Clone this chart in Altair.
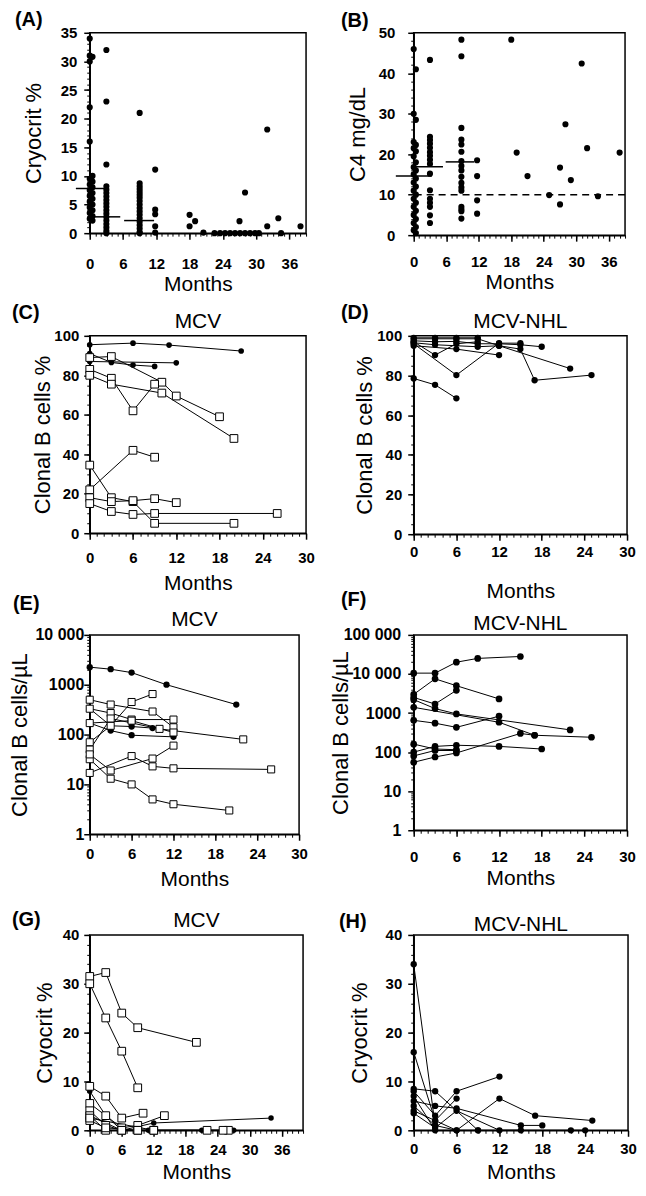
import altair as alt
import pandas as pd

FONT = "Liberation Sans"

# ---------------- (A) Cryocrit % , all patients ----------------
A_months = [
    0, 0, 0.5, 0, 0, 0, 0.5, 0, 0.5, 0, 0.5, 0, 0.5, 0, 0.5, 0, 0.5, 0, 0.5, 0, 0.5, 0, 0.5,
    3, 3, 3, 3, 3, 3, 3, 3, 3, 3, 3, 3, 3, 3, 3, 3, 3, 3,
    9, 9, 9, 9, 9, 9, 9, 9, 9, 9, 9, 9, 9, 9, 9, 9, 9, 9,
    11.8, 11.8, 11.8, 11.8, 11.8,
    18, 18, 19, 20.5, 22.5, 23.5, 24.4, 25.3, 26.2, 27.1, 28, 28.9, 29.8, 30.5,
    27, 28, 32, 32, 34, 34.5, 38,
]
A_cryocrit = [
    34, 31, 30.8, 30, 22, 16, 10, 9.5, 9, 8.5, 8, 7.5, 7, 6.5, 6, 5.5, 5, 4.5, 4, 3.5, 3, 2.5, 2.2,
    32, 23, 12, 8.2, 7.6, 7, 6.4, 5.8, 5.2, 4.6, 4, 3.4, 2.8, 2.2, 1.6, 1, 0.4, 0,
    21, 8.7, 8.2, 7.7, 7.2, 6.7, 6.2, 5.6, 5, 4.4, 3.8, 3.2, 2.6, 2, 1.4, 0.8, 0.2, 0,
    11.1, 4.1, 3.3, 1.2, 0.1,
    3.2, 1.2, 2.1, 0.1, 0, 0, 0, 0, 0, 0, 0, 0, 0, 0,
    2.1, 7.1, 18.1, 1.2, 2.6, 0, 1.2,
]
A_median_start = [-2.5, 0.7, 6.2]
A_median_end = [2.7, 5.5, 11.6]
A_median_value = [7.8, 2.85, 2.2]

# ---------------- (B) C4 mg/dL , all patients ----------------
B_months = [
    0, 0.4, 0, 0.4, 0, 0.4, 0, 0.4, 0, 0.4, 0, 0.4, 0, 0.4, 0, 0.4, 0, 0.4, 0, 0.4, 0, 0.4, 0, 0.4, 0, 0.4, 0, 0.4,
    3, 3, 3, 3, 3, 3, 3, 3, 3, 3, 3, 3, 3, 3, 3, 3,
    8.8, 8.8, 8.8, 8.8, 8.8, 8.8, 8.8, 8.8, 8.8, 8.8, 8.8, 8.8, 8.8, 8.8, 8.8, 8.8, 8.8,
    11.7, 11.7, 11.7, 11.7,
    18, 19, 21, 25, 27, 27, 28, 29, 31, 32, 34, 38,
]
B_c4 = [
    46, 41, 30, 28.5, 23, 22.3, 21.5, 20.7, 19.5, 18, 16.8, 16, 15, 14, 13, 12, 11, 10, 9, 8, 7, 6, 5, 4, 3, 2, 1.2, 0.5,
    43.3, 24.3, 23.5, 22.6, 21.6, 20.5, 19.6, 18.6, 17.6, 15.2, 11.1, 9, 8, 7, 4.9, 3,
    48.3, 44.2, 26.5, 23.6, 22.4, 20.6, 18.3, 17.1, 16, 14.4, 12.9, 11.8, 11, 7, 6.4, 5.9, 4.1,
    18.5, 14.6, 8.6, 5.3,
    48.3, 20.4, 14.6, 9.9, 7.6, 16.7, 27.4, 13.6, 42.4, 21.5, 9.6, 20.4,
]
B_median_start = [-3.3, 0.3, 5.9]
B_median_end = [3.3, 5.4, 11.2]
B_median_value = [14.6, 16.9, 18.1]
B_threshold = [10]

# ---------------- (C) Clonal B cells %, MCV ----------------
C_months = [[0, 6, 11, 21], [0, 3, 6, 9], [0, 12], [0, 3, 10, 12, 18], [0, 3, 6, 9],
            [0, 3, 10, 20], [0, 6, 9], [0, 3, 6, 9, 20], [0, 3, 6, 9, 12], [0, 3, 6, 9, 26]]
C_values = [[95.5, 96.3, 95.3, 92.3], [91, 86.5, 85.2, 84.5], [87, 86.3], [89, 89.5, 76.5, 69.5, 59],
            [83, 78.5, 62, 75.5], [80, 75.5, 71, 48], [22, 42, 38.5], [34.5, 18, 16, 5, 5],
            [18, 16, 16.5, 17.5, 15.5], [15, 11, 9.5, 10, 10]]
C_marker = ["circle", "circle", "circle", "square", "square", "square", "square", "square", "square", "square"]

# ---------------- (D) Clonal B cells %, MCV-NHL ----------------
D_months = [[0, 3, 6], [0, 3, 6, 9], [0, 6, 12, 15], [0, 3, 6, 9, 12, 15, 17, 25], [0, 6, 12],
            [0, 3, 9, 12, 22], [0, 3, 6, 9, 12, 15, 18], [0, 3, 6, 9]]
D_values = [[78.5, 75.3, 68.5], [97, 90.3, 96, 97], [96, 80.2, 96.3, 96.3],
            [98.5, 98.5, 98.5, 98.5, 95, 93.3, 77.6, 80.2], [95, 93.3, 90.3],
            [96.5, 95.5, 94.5, 95, 83.5], [97.5, 97, 97.2, 96, 96, 95.5, 94.5], [99, 99, 99, 99]]
D_marker = ["circle"] * 8

# ---------------- (E) Clonal B cells/uL, MCV ----------------
E_months = [[0, 3, 6, 11, 21], [0, 3, 6, 9], [0, 3, 6, 12], [0, 3, 9, 12], [0, 3, 6, 12],
            [0, 3, 6, 9], [0, 3, 10, 22], [0, 3, 6, 9, 12, 20], [0, 6, 9, 12, 26], [0, 3, 9, 12], [0, 6, 12]]
E_values = [[2250, 2050, 1750, 1000, 400], [330, 150, 145, 135], [170, 120, 97, 90], [500, 400, 290, 140],
            [330, 270, 200, 200], [70, 150, 450, 650], [50, 210, 130, 80], [32, 13, 10, 5, 4, 3],
            [17, 37, 23, 21, 20], [40, 19, 33, 60], [170, 190, 110]]
E_marker = ["circle", "circle", "circle", "square", "square", "square", "square", "square", "square", "square", "square"]

# ---------------- (F) Clonal B cells/uL, MCV-NHL ----------------
F_months = [[0, 3, 6, 9, 15], [0, 3, 6, 12], [0, 3, 6], [0, 3, 6, 22], [0, 12, 17, 25],
            [0, 3, 6, 12], [0, 3, 6], [0, 3, 6, 12, 18], [0, 3, 6, 15, 17], [0, 3, 6]]
F_values = [[10500, 10500, 20000, 25000, 28000], [3000, 7500, 5000, 2300], [2500, 1700, 3800],
            [2200, 1300, 950, 370], [1400, 580, 270, 240], [650, 550, 430, 830], [160, 120, 115],
            [100, 140, 150, 140, 120], [55, 75, 95, 300, 270], [80, 110, 110]]
F_marker = ["circle"] * 10

# ---------------- (G) Cryocrit %, MCV ----------------
G_months = [[0, 3, 6, 9, 20], [0, 3, 6, 9], [0, 3, 6, 10], [0, 3, 6, 12, 34], [0, 3, 6, 9, 14],
            [0, 3, 6, 9, 12], [0, 3, 6], [0, 3, 9, 22, 26], [0, 6, 11, 21, 27], [0, 12, 25]]
G_values = [[31.5, 32.3, 24, 21, 18], [30, 23, 16.2, 8.7], [9, 7, 2.5, 3.5], [8, 3, 0, 1.5, 2.5],
            [5.5, 3, 0.5, 1, 3], [4, 1, 0, 0, 0], [3, 0, 0], [2, 0.5, 0, 0, 0], [3, 0, 0, 0, 0], [2.5, 0, 0]]
G_marker = ["square", "square", "square", "circle", "square", "square", "square", "square", "circle", "square"]

# ---------------- (H) Cryocrit %, MCV-NHL ----------------
H_months = [[0, 3], [0, 3, 6], [0, 3, 9], [0, 3, 6, 12], [0, 3, 6, 15, 18], [0, 3, 6, 12, 17, 25],
            [0, 3, 6], [0, 3, 6, 12, 15], [0, 3, 9, 22, 24]]
H_values = [[34, 1], [16, 2, 0], [8.5, 8, 0], [8, 3, 8, 11], [6, 5, 4.5, 1, 1], [5, 1, 0, 6.5, 3, 2],
            [4, 2, 6.5], [3.5, 0.5, 4, 0, 0], [7, 0, 0, 0, 0]]
H_marker = ["circle"] * 9


def scatter_df(months, values):
    return pd.DataFrame({"m": months, "v": values, "s": 0, "o": 0, "mk": "circle"})


def series_df(months_list, values_list, markers):
    rows = []
    for i, (ms, vs, mk) in enumerate(zip(months_list, values_list, markers)):
        for j, (m, v) in enumerate(zip(ms, vs)):
            rows.append({"s": i, "o": j, "m": m, "v": v, "mk": mk})
    return pd.DataFrame(rows)


LOG_LABEL = "datum.value >= 10000 ? replace(format(datum.value, ','), ',', ' ') : format(datum.value, 'd')"


def make_panel(p):
    xs = alt.Scale(domain=p["xdom"], nice=False, zero=False)
    if p.get("log"):
        ys = alt.Scale(type="log", domain=p["ydom"], nice=False)
    else:
        ys = alt.Scale(domain=p["ydom"], nice=False, zero=False)
    df = p["df"]
    lab = p.get("ylab", 15)
    x_major = alt.Axis(orient="bottom", values=p["xticks"], title="Months", format="d",
                       tickSize=6, labelPadding=p["xlp"], minExtent=p["xext"], maxExtent=p["xext"],
                       titlePadding=0, titleFontSize=21, labelFontSize=15, labelFontWeight="bold")
    x_minor = alt.Axis(orient="bottom", values=p["xminor"], title=None, labels=False,
                       domain=False, tickSize=3, tickWidth=1)
    y_kw = dict(orient="left", values=p["yticks"], title=p["ytitle"], tickSize=6,
                labelPadding=p["ylp"], minExtent=p["yext"], maxExtent=p["yext"],
                titlePadding=0, titleFontSize=22, labelFontSize=lab, labelFontWeight="bold")
    if p.get("log"):
        y_kw["labelExpr"] = LOG_LABEL
    else:
        y_kw["format"] = "d"
    y_major = alt.Axis(**y_kw)
    y_minor = alt.Axis(orient="left", values=p["yminor"], title=None, labels=False,
                       domain=False, tickSize=3, tickWidth=1)
    X = alt.X("m:Q", scale=xs, axis=None)
    Y = alt.Y("v:Q", scale=ys, axis=None)
    base = alt.Chart(df)
    layers = [
        base.mark_point(opacity=0).encode(x=alt.X("m:Q", scale=xs, axis=x_major),
                                          y=alt.Y("v:Q", scale=ys, axis=y_major)),
        base.mark_point(opacity=0).encode(x=alt.X("m:Q", scale=xs, axis=x_minor),
                                          y=alt.Y("v:Q", scale=ys, axis=y_minor)),
    ]
    for extra in p.get("extra", []):
        layers.append(extra(xs, ys))
    if p.get("lines"):
        layers.append(base.mark_line(color="black", strokeWidth=1).encode(
            x=X, y=Y, detail="s:N", order="o:Q"))
    layers.append(base.transform_filter(alt.datum.mk == "circle").mark_circle(
        color="black", opacity=1, size=p["csize"]).encode(x=X, y=Y))
    if p.get("lines"):
        layers.append(base.transform_filter(alt.datum.mk == "square").mark_square(
            filled=True, color="white", stroke="black", strokeWidth=1, opacity=1,
            size=p.get("ssize", 55)).encode(x=X, y=Y))
    layers.append(alt.Chart(pd.DataFrame({"t": [p["tag"]]})).mark_text(
        align="left", baseline="alphabetic", fontSize=20, fontWeight="bold", font=FONT,
        color="black").encode(x=alt.value(p["tagx"]), y=alt.value(p["tagy"]), text="t:N"))
    if p.get("title"):
        layers.append(alt.Chart(pd.DataFrame({"t": [p["title"]]})).mark_text(
            align="center", baseline="alphabetic", fontSize=21, font=FONT,
            color="black").encode(x=alt.value(p["w"] / 2), y=alt.value(p["titley"]), text="t:N"))
    return alt.layer(*layers).properties(width=p["w"], height=p["h"]).resolve_axis(
        x="independent", y="independent")


def median_layer(starts, ends, vals):
    d = pd.DataFrame({"x1": starts, "x2": ends, "v": vals})

    def f(xs, ys):
        return alt.Chart(d).mark_rule(color="black", strokeWidth=1.5).encode(
            x=alt.X("x1:Q", scale=xs, axis=None), x2="x2:Q", y=alt.Y("v:Q", scale=ys, axis=None))
    return f


def threshold_layer(vals):
    d = pd.DataFrame({"v": vals})

    def f(xs, ys):
        return alt.Chart(d).mark_rule(color="black", strokeWidth=1.5, strokeDash=[7, 5]).encode(
            y=alt.Y("v:Q", scale=ys, axis=None))
    return f


LOG_MINOR4 = [k * 10 ** e for e in range(0, 4) for k in range(2, 10)]
LOG_MINOR5 = [k * 10 ** e for e in range(0, 5) for k in range(2, 10)]

panels = [
    dict(df=scatter_df(A_months, A_cryocrit), xdom=[0, 39], ydom=[0, 35],
         xticks=[0, 6, 12, 18, 24, 30, 36], xminor=list(range(0, 40)),
         yticks=[0, 5, 10, 15, 20, 25, 30, 35], yminor=list(range(0, 36)),
         w=217, h=201, xlp=17, xext=40.5, ylp=7, yext=44, ytitle="Cryocrit %",
         tag="(A)", tagx=-75, tagy=-7, csize=38,
         extra=[median_layer(A_median_start, A_median_end, A_median_value)]),
    dict(df=scatter_df(B_months, B_c4), xdom=[0, 39], ydom=[0, 50],
         xticks=[0, 6, 12, 18, 24, 30, 36], xminor=list(range(0, 40)),
         yticks=[0, 10, 20, 30, 40, 50], yminor=list(range(0, 51, 2)),
         w=212, h=203, xlp=13, xext=36.5, ylp=13, yext=44, ytitle="C4 mg/dL",
         tag="(B)", tagx=-73, tagy=-6, csize=38,
         extra=[threshold_layer(B_threshold), median_layer(B_median_start, B_median_end, B_median_value)]),
    dict(df=series_df(C_months, C_values, C_marker), xdom=[0, 30], ydom=[0, 100], lines=True,
         xticks=[0, 6, 12, 18, 24, 30], xminor=list(range(0, 31)),
         yticks=[0, 20, 40, 60, 80, 100], yminor=list(range(0, 101, 5)),
         w=217, h=198, xlp=11, xext=39.5, ylp=5, yext=35.5, ytitle="Clonal B cells %",
         tag="(C)", tagx=-78, tagy=-17, title="MCV", titley=-8, csize=32, ssize=60),
    dict(df=series_df(D_months, D_values, D_marker), xdom=[0, 30], ydom=[0, 100], lines=True,
         xticks=[0, 6, 12, 18, 24, 30], xminor=list(range(0, 31)),
         yticks=[0, 20, 40, 60, 80, 100], yminor=list(range(0, 101, 5)),
         w=214, h=199, xlp=4, xext=46.5, ylp=6, yext=37, ytitle="Clonal B cells %",
         tag="(D)", tagx=-73, tagy=-17, title="MCV-NHL", titley=-8, csize=40),
    dict(df=series_df(E_months, E_values, E_marker), xdom=[0, 30], ydom=[1, 10000], log=True, lines=True,
         xticks=[0, 6, 12, 18, 24, 30], xminor=list(range(0, 31)),
         yticks=[1, 10, 100, 1000, 10000], yminor=LOG_MINOR4, ylab=16,
         w=210, h=200, xlp=6, xext=34.5, ylp=0, yext=58, ytitle="Clonal B cells/µL",
         tag="(E)", tagx=-77, tagy=-25, title="MCV", titley=-9, csize=40, ssize=50),
    dict(df=series_df(F_months, F_values, F_marker), xdom=[0, 30], ydom=[1, 100000], log=True, lines=True,
         xticks=[0, 6, 12, 18, 24, 30], xminor=list(range(0, 31)),
         yticks=[1, 10, 100, 1000, 10000, 100000], yminor=LOG_MINOR5, ylab=16,
         w=214, h=196, xlp=13, xext=37.5, ylp=7, yext=61, ytitle="Clonal B cells/µL",
         tag="(F)", tagx=-73, tagy=-29, title="MCV-NHL", titley=-5, csize=45),
    dict(df=series_df(G_months, G_values, G_marker), xdom=[0, 40], ydom=[0, 40], lines=True,
         xticks=[0, 6, 12, 18, 24, 30, 36], xminor=list(range(0, 41)),
         yticks=[0, 10, 20, 30, 40], yminor=list(range(0, 41, 2)),
         w=214, h=196, xlp=6, xext=31, ylp=5, yext=33, ytitle="Cryocrit %",
         tag="(G)", tagx=-78, tagy=-9, title="MCV", titley=-8, csize=30, ssize=60),
    dict(df=series_df(H_months, H_values, H_marker), xdom=[0, 30], ydom=[0, 40], lines=True,
         xticks=[0, 6, 12, 18, 24, 30], xminor=list(range(0, 31)),
         yticks=[0, 10, 20, 30, 40], yminor=list(range(0, 41, 2)),
         w=215, h=196, xlp=5, xext=31, ylp=6, yext=42, ytitle="Cryocrit %",
         tag="(H)", tagx=-75, tagy=-7, title="MCV-NHL", titley=-4, csize=40),
]

chart = alt.concat(*[make_panel(p) for p in panels], columns=2,
                   spacing={"row": 101, "column": 108}, bounds="flush",
                   padding={"left": 0, "top": -1, "right": 0, "bottom": 0})

chart = chart.configure(font=FONT).configure_view(
    stroke="black", strokeWidth=1.5
).configure_axis(
    grid=False, domainColor="black", domainWidth=1.5, tickColor="black", tickWidth=1.5,
    labelColor="black", labelFont=FONT, labelFontSize=15, labelFontWeight="bold",
    labelFlush=False, labelOverlap=False, titleFont=FONT, titleFontWeight="normal",
    titleColor="black"
)

chart.save("out.html", embed_options={"renderer": "svg", "actions": False})
